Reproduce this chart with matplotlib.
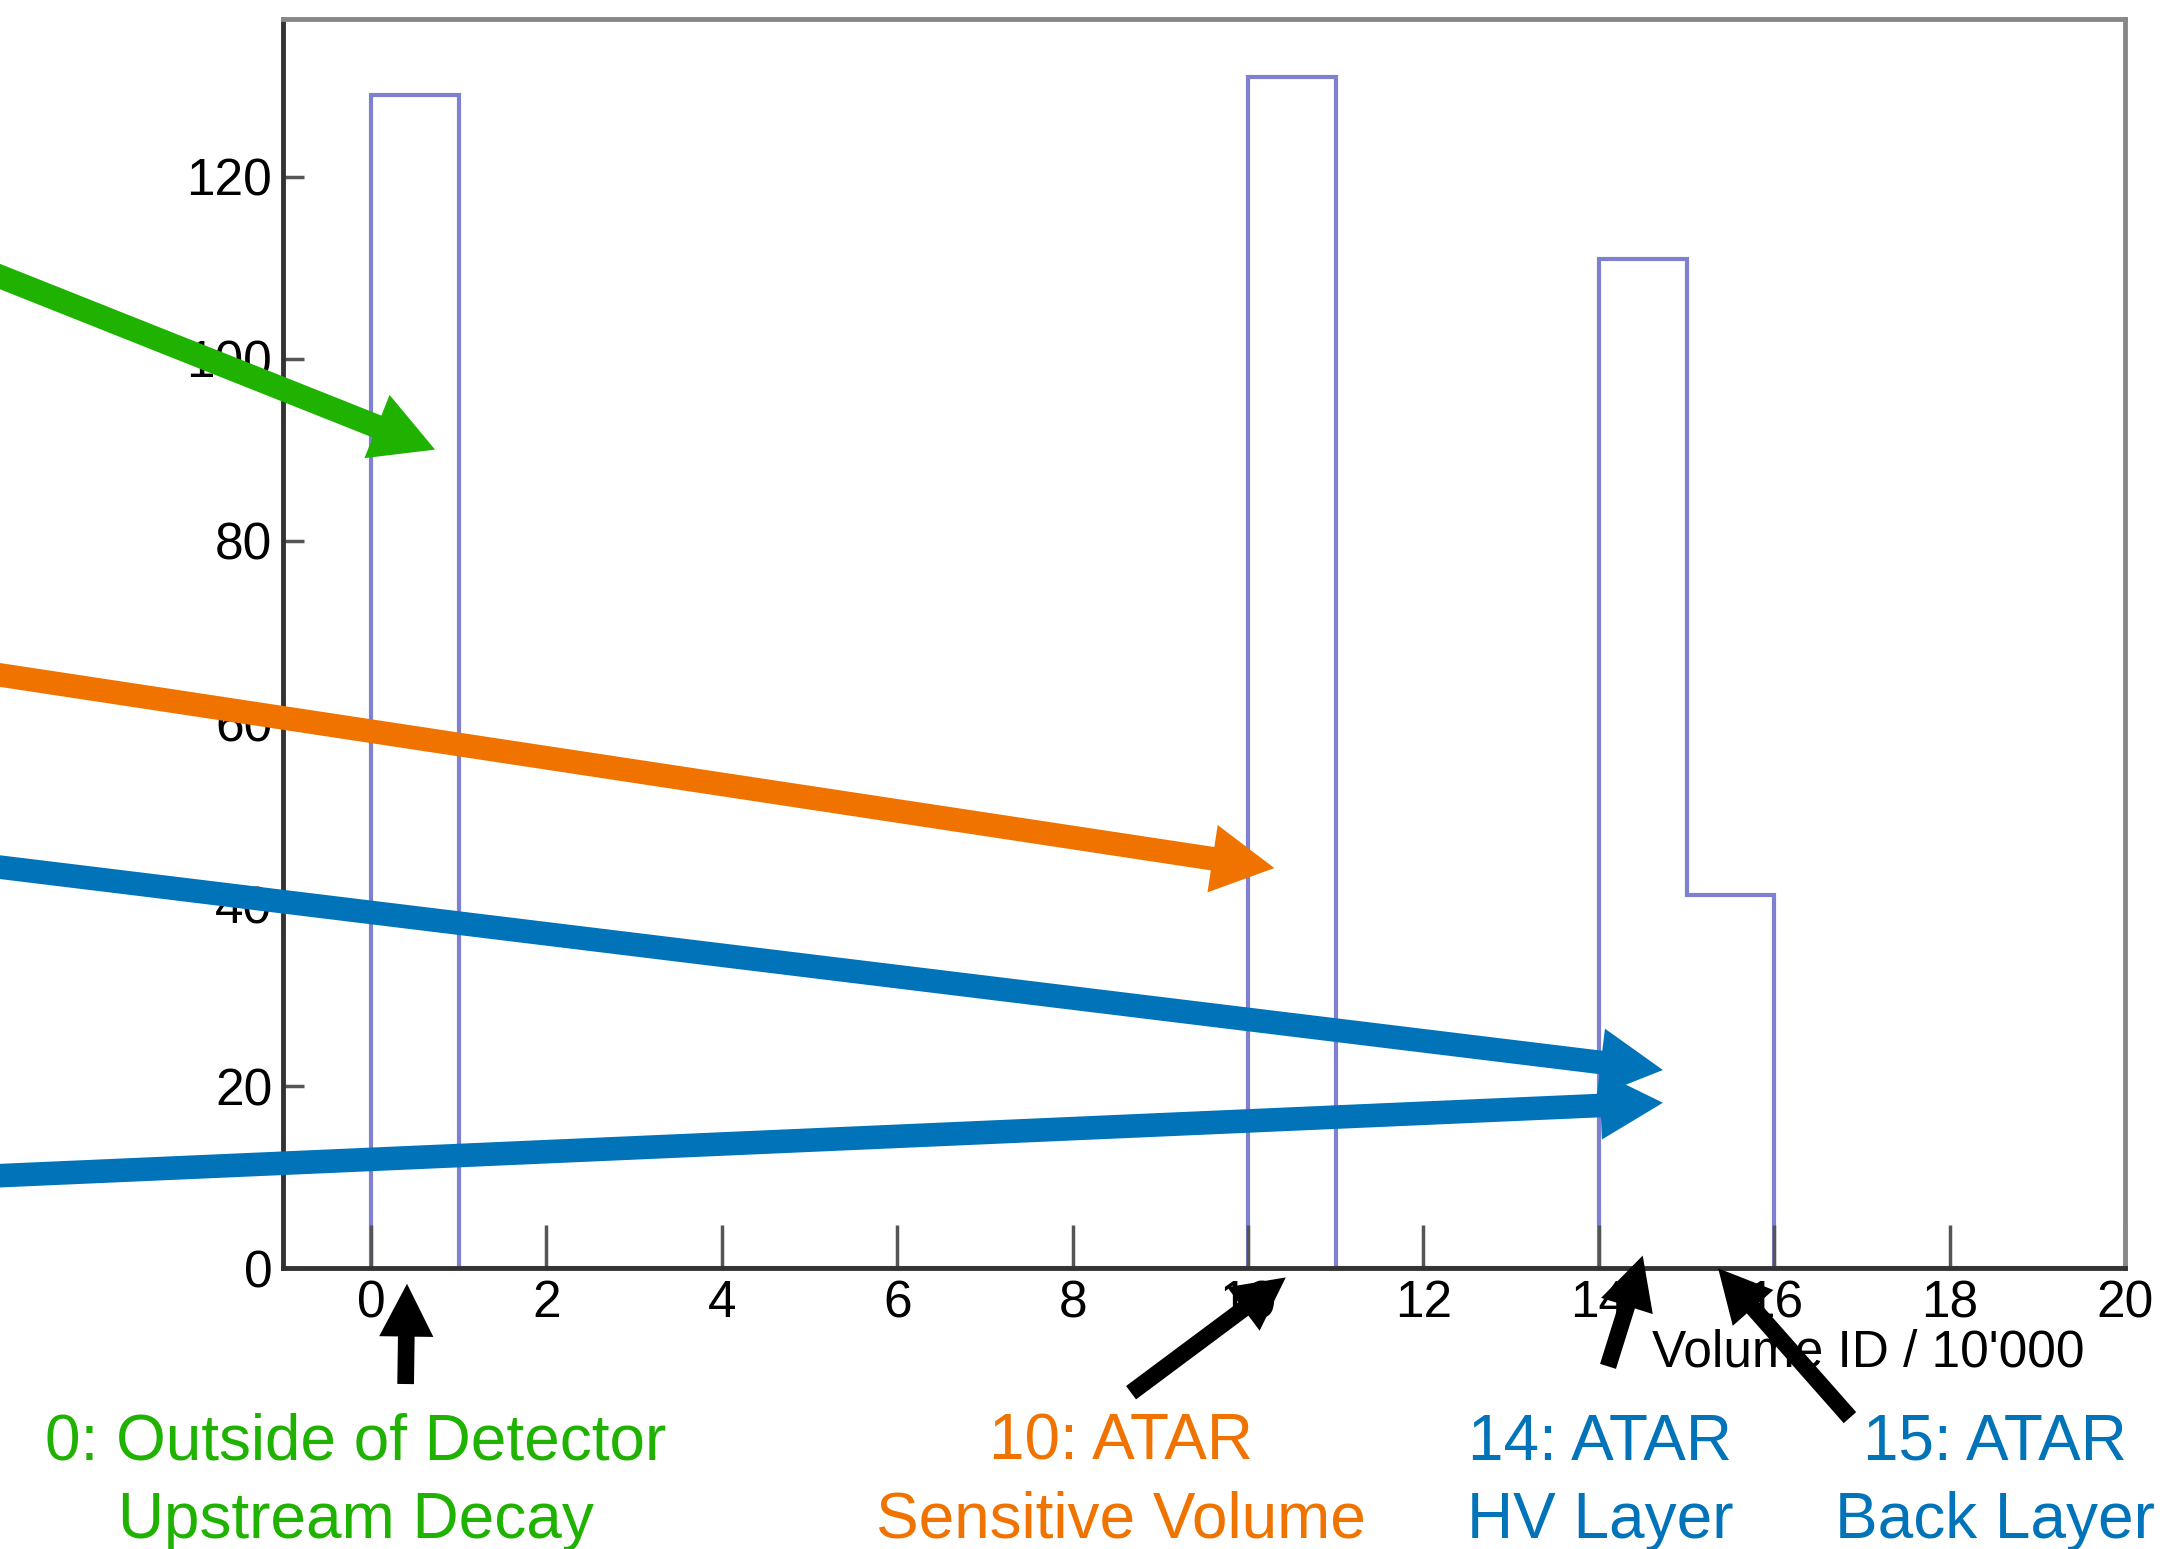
import numpy as np
import matplotlib
matplotlib.use("Agg")
import matplotlib.pyplot as plt
from matplotlib.ticker import MultipleLocator

# histogram: entries per volume-ID bin (Volume ID / 10'000)
bin_edges = np.arange(0, 21)
counts = [129, 0, 0, 0, 0, 0, 0, 0, 0, 0, 131, 0, 0, 0, 111, 41, 0, 0, 0, 0]

# annotations: label text, colour, position (figure fraction)
labels = ["0: Outside of Detector\nUpstream Decay", "10: ATAR\nSensitive Volume",
          "14: ATAR\nHV Layer", "15: ATAR\nBack Layer"]
label_colors = ["#1fb200", "#f07300", "#0073b9", "#0073b9"]
label_x = [0.164, 0.517, 0.738, 0.920]
label_y = 0.0434

# coloured arrows from the left edge: tip (data coords), start (figure fraction)
col_tips = [(0.73, 90.0), (10.3, 44.0), (14.73, 21.8), (14.73, 18.2)]
col_starts = [(-0.02, 0.8326), (-0.02, 0.5685), (-0.02, 0.4436), (-0.02, 0.2398)]
col_colors = ["#1fb200", "#f07300", "#0073b9", "#0073b9"]

# black arrows from the labels up to the axis
blk_tips = [(0.41, -1.7), (10.43, -1.0), (14.5, 1.4), (15.36, 0.0)]
blk_starts = [(0.1871, 0.1065), (0.5217, 0.1009), (0.7417, 0.1179), (0.8533, 0.0848)]

plt.rcParams['font.family'] = ['Liberation Sans', 'DejaVu Sans']

fig = plt.figure(figsize=(21.68, 15.49), dpi=100)
ax = fig.add_axes([0.1307, 0.1812, 0.9802 - 0.1307, 0.9875 - 0.1812])

ax.stairs(counts, bin_edges, color="#8080d0", lw=3, baseline=0)

ax.set_xlim(-1, 20)
ax.set_ylim(0, 137.3)
ax.xaxis.set_major_locator(MultipleLocator(2))
ax.yaxis.set_major_locator(MultipleLocator(20))

for side in ['left', 'bottom']:
    ax.spines[side].set_color('#333333')
    ax.spines[side].set_linewidth(3.5)
for side in ['top', 'right']:
    ax.spines[side].set_color('#888888')
    ax.spines[side].set_linewidth(3.5)

ax.tick_params(axis='x', direction='in', length=31, width=2.5, color='#555555',
               labelsize=37, pad=8)
ax.tick_params(axis='y', direction='in', length=15, width=2.5, color='#555555',
               labelsize=37, pad=8)

ax.set_xlabel("Volume ID / 10'000", fontsize=37)
ax.xaxis.set_label_coords(0.978, -0.068)
ax.xaxis.label.set_ha('right')
ax.xaxis.label.set_va('center')

for txt, c, x in zip(labels, label_colors, label_x):
    fig.text(x, label_y, txt, color=c, fontsize=46, ha='center', va='center',
             multialignment='center', linespacing=1.38)

for tip, start, c in zip(col_tips, col_starts, col_colors):
    ax.annotate('', xy=tip, xycoords='data', xytext=start, textcoords='figure fraction',
                annotation_clip=False, zorder=10,
                arrowprops=dict(arrowstyle='simple,head_length=45,head_width=49,tail_width=17',
                                mutation_scale=1, fc=c, ec='none', lw=0,
                                shrinkA=0, shrinkB=0))

for tip, start in zip(blk_tips, blk_starts):
    ax.annotate('', xy=tip, xycoords='data', xytext=start, textcoords='figure fraction',
                annotation_clip=False, zorder=10,
                arrowprops=dict(arrowstyle='simple,head_length=38,head_width=39,tail_width=12',
                                mutation_scale=1, fc='black', ec='none', lw=0,
                                shrinkA=0, shrinkB=0))

fig.savefig("out.png", dpi=100)
